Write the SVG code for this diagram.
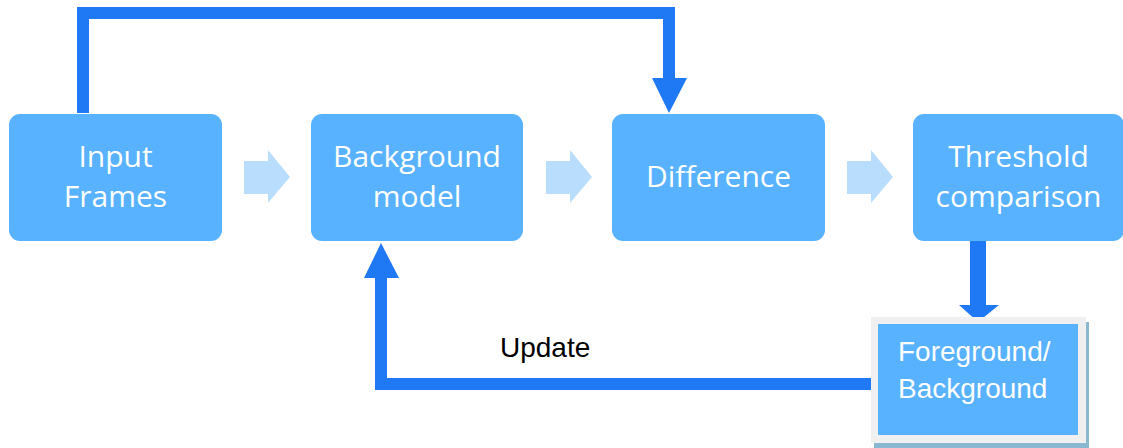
<svg xmlns="http://www.w3.org/2000/svg" width="1123" height="448" viewBox="0 0 1123 448">
  <style>
    .box { fill: #58B2FF; }
    .lbl { font-family: "Open Sans", "DejaVu Sans", sans-serif; font-size: 30px; fill: #FFFFFF; text-anchor: middle; }
    .lbl2 { font-family: "Liberation Sans", Arial, sans-serif; font-size: 28px; fill: #FFFFFF; }
    .flow { fill: #B9DEFD; }
    .wire { fill: none; stroke: #1F78F4; stroke-width: 12; stroke-linejoin: miter; }
    .head { fill: #1F78F4; }
    .note { font-family: "Liberation Sans", Arial, sans-serif; font-size: 28px; fill: #000000; }
  </style>
  <rect width="1123" height="448" fill="#FFFFFF"/>

  <g id="connectors">
    <!-- feed-forward loop from input frames into the difference stage -->
    <polyline class="wire" points="83,113 83,13 669,13 669,80"/>
    <polygon class="head" points="652,78 687,78 669,113"/>
    <!-- stage-to-stage flow arrows -->
    <polygon class="flow" points="244,161 268,161 268,150 290,177 268,203 268,194 244,194"/>
    <polygon class="flow" points="546,161 570,161 570,150 592,177 570,203 570,194 546,194"/>
    <polygon class="flow" points="847,161 871,161 871,150 893,177 871,203 871,194 847,194"/>
    <!-- threshold result down to foreground/background -->
    <rect class="head" x="970" y="240" width="16" height="66"/>
    <polygon class="head" points="959,305 999,305 978,322"/>
    <!-- update loop back into background model -->
    <polyline class="wire" points="871,384 381,384 381,276"/>
    <polygon class="head" points="364,278 399,278 381,243"/>
    <text class="note" x="500" y="357">Update</text>
  </g>

  <g id="node-input">
    <rect class="box" x="9" y="114" width="213" height="127" rx="11"/>
    <text class="lbl" x="115.5" y="167">Input</text>
    <text class="lbl" x="115.5" y="207">Frames</text>
  </g>

  <g id="node-background">
    <rect class="box" x="311" y="114" width="212" height="127" rx="11"/>
    <text class="lbl" x="417" y="167">Background</text>
    <text class="lbl" x="417" y="207">model</text>
  </g>

  <g id="node-difference">
    <rect class="box" x="612" y="114" width="213" height="127" rx="11"/>
    <text class="lbl" x="718.5" y="187">Difference</text>
  </g>

  <g id="node-threshold">
    <rect class="box" x="913" y="114" width="211" height="127" rx="11"/>
    <text class="lbl" x="1018.5" y="167">Threshold</text>
    <text class="lbl" x="1018.5" y="207">comparison</text>
  </g>

  <g id="node-foreground">
    <rect x="874" y="322" width="215" height="126" fill="#8AB8D0"/>
    <rect x="871" y="317" width="215" height="126" fill="#F0F0F0"/>
    <rect class="box" x="878" y="324" width="200" height="111"/>
    <text class="lbl2" x="898" y="361">Foreground/</text>
    <text class="lbl2" x="898" y="398">Background</text>
  </g>
</svg>
